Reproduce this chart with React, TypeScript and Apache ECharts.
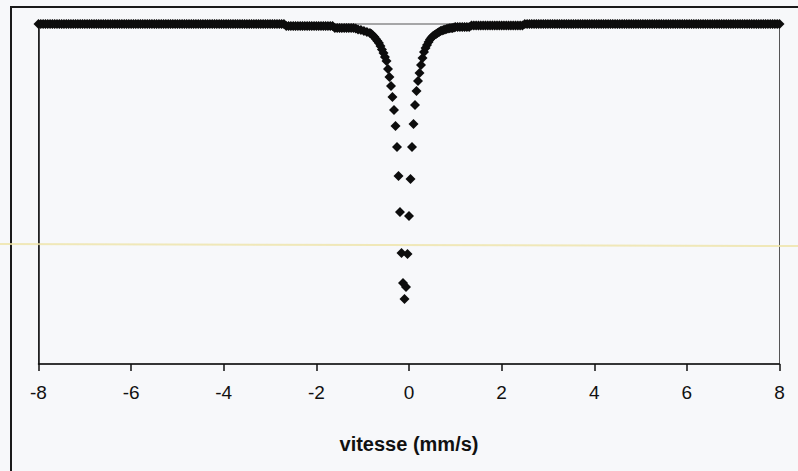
import React, { useEffect, useRef } from "react";
import * as echarts from "echarts";

// velocity (mm/s), transmission (%)
const leftWing: [number, number][] = [
  [-8,100],[-7.95,100],[-7.9,100],[-7.85,100],[-7.8,100],[-7.75,100],[-7.7,100],[-7.65,100],[-7.6,100],[-7.55,100],
  [-7.5,100],[-7.45,100],[-7.4,100],[-7.35,100],[-7.3,100],[-7.25,100],[-7.2,100],[-7.15,100],[-7.1,100],[-7.05,100],
  [-7,100],[-6.95,100],[-6.9,100],[-6.85,100],[-6.8,100],[-6.75,100],[-6.7,100],[-6.65,100],[-6.6,100],[-6.55,100],
  [-6.5,100],[-6.45,100],[-6.4,100],[-6.35,100],[-6.3,100],[-6.25,100],[-6.2,100],[-6.15,100],[-6.1,100],[-6.05,100],
  [-6,100],[-5.95,100],[-5.9,100],[-5.85,100],[-5.8,100],[-5.75,100],[-5.7,100],[-5.65,100],[-5.6,100],[-5.55,100],
  [-5.5,100],[-5.45,100],[-5.4,100],[-5.35,100],[-5.3,100],[-5.25,100],[-5.2,100],[-5.15,100],[-5.1,100],[-5.05,100],
  [-5,100],[-4.95,100],[-4.9,100],[-4.85,100],[-4.8,100],[-4.75,100],[-4.7,100],[-4.65,100],[-4.6,100],[-4.55,100],
  [-4.5,100],[-4.45,100],[-4.4,100],[-4.35,100],[-4.3,100],[-4.25,100],[-4.2,100],[-4.15,100],[-4.1,100],[-4.05,100],
  [-4,100],[-3.95,100],[-3.9,100],[-3.85,100],[-3.8,100],[-3.75,100],[-3.7,100],[-3.65,100],[-3.6,100],[-3.55,100],
  [-3.5,100],[-3.45,100],[-3.4,100],[-3.35,100],[-3.3,100],[-3.25,100],[-3.2,100],[-3.15,100],[-3.1,100],[-3.05,100],
  [-3,100],[-2.95,100],[-2.9,100],[-2.85,100],[-2.8,100],[-2.75,100],[-2.7,100],
  [-2.65,99.88],[-2.6,99.88],[-2.55,99.88],[-2.5,99.88],[-2.45,99.88],[-2.4,99.88],[-2.35,99.88],[-2.3,99.88],
  [-2.25,99.88],[-2.2,99.88],[-2.15,99.88],[-2.1,99.88],[-2.05,99.88],[-2,99.88],[-1.95,99.88],[-1.9,99.88],
  [-1.85,99.88],[-1.8,99.88],[-1.75,99.88],[-1.7,99.88],[-1.65,99.88],
  [-1.6,99.76],[-1.55,99.76],[-1.5,99.76],[-1.45,99.76],[-1.4,99.76],[-1.35,99.76],[-1.3,99.76],[-1.25,99.76],
  [-1.2,99.76],[-1.15,99.74],[-1.1,99.68],
];

const dip: [number, number][] = [
  [-1.038,99.65],[-0.973,99.59],[-0.908,99.53],[-0.843,99.47],[-0.811,99.41],[-0.778,99.32],[-0.746,99.24],
  [-0.714,99.12],[-0.681,99.0],[-0.649,98.88],[-0.616,98.71],[-0.584,98.5],[-0.551,98.29],[-0.519,98.06],
  [-0.486,97.82],[-0.454,97.35],[-0.422,96.88],[-0.389,96.35],[-0.357,95.71],[-0.324,94.94],[-0.292,94.0],
  [-0.259,92.76],[-0.227,91.06],[-0.195,88.94],[-0.162,86.53],[-0.13,84.76],[-0.097,83.82],[-0.065,84.53],
  [-0.032,86.47],[0,88.71],[0.032,90.88],[0.065,92.76],[0.097,94.12],[0.13,95.24],[0.162,96.06],[0.195,96.65],
  [0.227,97.12],[0.259,97.59],[0.292,98.0],[0.324,98.35],[0.357,98.59],[0.389,98.76],[0.422,98.94],[0.454,99.09],
  [0.486,99.21],[0.519,99.29],[0.551,99.35],[0.584,99.41],[0.616,99.47],[0.649,99.53],[0.681,99.59],[0.714,99.62],
  [0.746,99.65],[0.778,99.68],[0.811,99.71],[0.843,99.74],[0.876,99.75],[0.908,99.76],[0.94,99.77],[0.973,99.79],
];

const rightWing: [number, number][] = [
  [1,99.82],[1.05,99.82],[1.1,99.82],[1.15,99.82],[1.2,99.82],[1.25,99.82],[1.3,99.82],
  [1.35,99.91],[1.4,99.91],[1.45,99.91],[1.5,99.91],[1.55,99.91],[1.6,99.91],[1.65,99.91],[1.7,99.91],
  [1.75,99.91],[1.8,99.91],[1.85,99.91],[1.9,99.91],[1.95,99.91],[2,99.91],[2.05,99.91],[2.1,99.91],
  [2.15,99.91],[2.2,99.91],[2.25,99.91],[2.3,99.91],[2.35,99.91],[2.4,99.91],[2.45,99.91],
  [2.5,100],[2.55,100],[2.6,100],[2.65,100],[2.7,100],[2.75,100],[2.8,100],[2.85,100],[2.9,100],[2.95,100],
  [3,100],[3.05,100],[3.1,100],[3.15,100],[3.2,100],[3.25,100],[3.3,100],[3.35,100],[3.4,100],[3.45,100],
  [3.5,100],[3.55,100],[3.6,100],[3.65,100],[3.7,100],[3.75,100],[3.8,100],[3.85,100],[3.9,100],[3.95,100],
  [4,100],[4.05,100],[4.1,100],[4.15,100],[4.2,100],[4.25,100],[4.3,100],[4.35,100],[4.4,100],[4.45,100],
  [4.5,100],[4.55,100],[4.6,100],[4.65,100],[4.7,100],[4.75,100],[4.8,100],[4.85,100],[4.9,100],[4.95,100],
  [5,100],[5.05,100],[5.1,100],[5.15,100],[5.2,100],[5.25,100],[5.3,100],[5.35,100],[5.4,100],[5.45,100],
  [5.5,100],[5.55,100],[5.6,100],[5.65,100],[5.7,100],[5.75,100],[5.8,100],[5.85,100],[5.9,100],[5.95,100],
  [6,100],[6.05,100],[6.1,100],[6.15,100],[6.2,100],[6.25,100],[6.3,100],[6.35,100],[6.4,100],[6.45,100],
  [6.5,100],[6.55,100],[6.6,100],[6.65,100],[6.7,100],[6.75,100],[6.8,100],[6.85,100],[6.9,100],[6.95,100],
  [7,100],[7.05,100],[7.1,100],[7.15,100],[7.2,100],[7.25,100],[7.3,100],[7.35,100],[7.4,100],[7.45,100],
  [7.5,100],[7.55,100],[7.6,100],[7.65,100],[7.7,100],[7.75,100],[7.8,100],[7.85,100],[7.9,100],[7.95,100],
  [8,100],
];

const xMin = -8;
const xMax = 8;
const xStep = 2;
const yMin = 80;
const yMax = 100;
const xTitle = "vitesse (mm/s)";

export default function App() {
  const ref = useRef<HTMLDivElement>(null);
  useEffect(() => {
    if (!ref.current) return;
    const chart = echarts.init(ref.current, undefined, { renderer: "svg" });
    const font = "'Liberation Sans', Arial, sans-serif";
    chart.setOption({
      animation: false,
      backgroundColor: "#f7f8fa",
      grid: {
        left: 38.5,
        right: 18.5,
        top: 24,
        bottom: 107,
        show: true,
        borderColor: "#555",
        borderWidth: 1,
        backgroundColor: "transparent",
      },
      xAxis: {
        type: "value",
        min: xMin,
        max: xMax,
        interval: xStep,
        splitLine: { show: false },
        axisLine: { onZero: false, lineStyle: { color: "#111", width: 1.5 } },
        axisTick: { show: true, inside: false, length: 7, lineStyle: { color: "#111", width: 1.5 } },
        axisLabel: { color: "#111", fontSize: 19, fontFamily: font, margin: 19 },
        name: xTitle,
        nameLocation: "middle",
        nameGap: 70,
        nameTextStyle: { color: "#111", fontSize: 20, fontWeight: "bold", fontFamily: font },
      },
      yAxis: {
        type: "value",
        min: yMin,
        max: yMax,
        show: true,
        splitLine: { show: false },
        axisLine: { show: true, onZero: false, lineStyle: { color: "#111", width: 1.5 } },
        axisTick: { show: false },
        axisLabel: { show: false },
      },
      series: [
        {
          type: "scatter",
          data: [...leftWing, ...dip, ...rightWing],
          symbol: "diamond",
          symbolSize: [10, 10],
          itemStyle: { color: "#0d0d0d", opacity: 1 },
          clip: false,
        },
      ],
      graphic: [
        {
          type: "rect",
          shape: { x: 11, y: 7, width: 830, height: 500 },
          style: { fill: "none", stroke: "#1a1a1a", lineWidth: 2 },
          silent: true,
          z: 100,
        },
        {
          type: "line",
          shape: { x1: 0, y1: 244, x2: 798, y2: 246 },
          style: { stroke: "#eee3a8", lineWidth: 2, opacity: 0.8 },
          silent: true,
          z: 101,
        },
      ],
    });
    return () => chart.dispose();
  }, []);
  return (
    <div style={{ position: "fixed", left: 0, top: 0, width: 798, height: 471, background: "#f7f8fa" }}>
      <div ref={ref} style={{ width: 798, height: 471 }} />
    </div>
  );
}
